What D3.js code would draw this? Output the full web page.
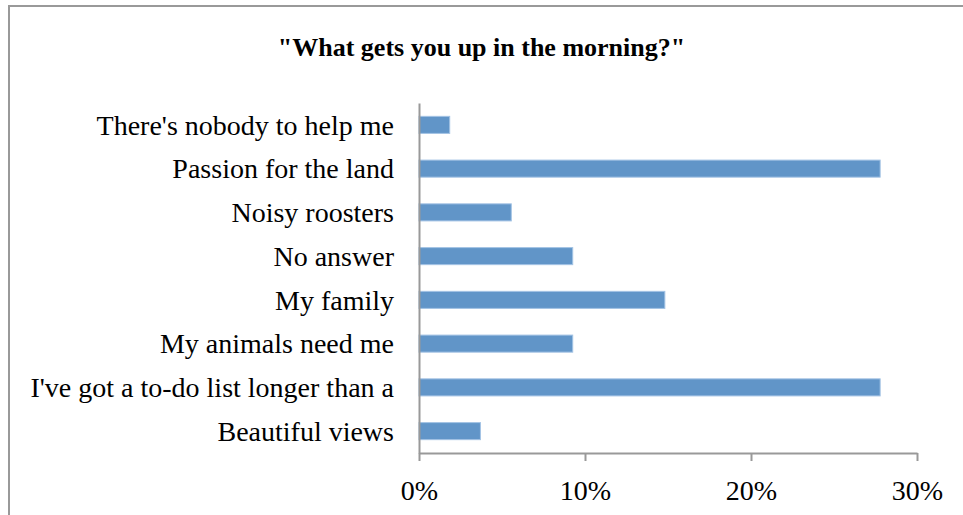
<!DOCTYPE html>
<html>
<head>
<meta charset="utf-8">
<script src="https://cdn.jsdelivr.net/npm/d3@7"></script>
<style>
  body { margin: 0; background: #fff; }
  .chart text { font-family: "Liberation Serif", "Times New Roman", serif; fill: #000; }
  .axis path, .axis line { stroke: #999; stroke-width: 2; }
</style>
</head>
<body>
<div class="chart"></div>
<script>
// answers, top to bottom as they appear in the chart
const categories = [
  "There's nobody to help me",
  "Passion for the land",
  "Noisy roosters",
  "No answer",
  "My family",
  "My animals need me",
  "I've got a to-do list longer than a",
  "Beautiful views"
];

// share of answers (in %)
const shares = [1.85, 27.78, 5.56, 9.26, 14.81, 9.26, 27.78, 3.70];

const tickValues = [0, 10, 20, 30];

const title = '"What gets you up in the morning?"';

const W = 963, H = 515;

//plot area
const margin = { top: 103, right: 46, bottom: 62, left: 419 };
const width = W - margin.left - margin.right;
const height = H - margin.top - margin.bottom;

const svg = d3.select('.chart')
  .append('svg')
  .attr('width', W)
  .attr('height', H);

//outer frame, runs off the right and bottom edges like in the screenshot
svg.append('rect')
  .attr('x', 9)
  .attr('y', 6)
  .attr('width', 1000)
  .attr('height', 600)
  .attr('fill', 'none')
  .attr('stroke', '#999')
  .attr('stroke-width', 2);

svg.append('text')
  .attr('x', W / 2)
  .attr('y', 56)
  .attr('text-anchor', 'middle')
  .style('font-size', '26px')
  .style('font-weight', 'bold')
  .text(title);

const g = svg.append('g')
  .attr('transform', `translate(${margin.left},${margin.top})`);

const x = d3.scaleLinear()
  .domain([0, 30])
  .range([0, width]);

const y = d3.scaleBand()
  .domain(categories)
  .range([0, height])
  .paddingInner(0.61)
  .paddingOuter(0.305);

const data = categories.map((c, i) => ({ name: c, value: shares[i] }));

g.selectAll('rect.bar')
  .data(data)
  .enter()
  .append('rect')
  .attr('class', 'bar')
  .attr('x', 0)
  .attr('y', d => y(d.name))
  .attr('width', d => x(d.value))
  .attr('height', y.bandwidth())
  .attr('fill', '#6195c8')
  .attr('stroke', '#a3c3e4')
  .attr('stroke-width', 1);

//x axis
const xAxis = d3.axisBottom(x)
  .tickValues(tickValues)
  .tickSize(8)
  .tickSizeOuter(0)
  .tickFormat(d => d + '%');

g.append('g')
  .attr('class', 'axis')
  .attr('transform', `translate(0,${height})`)
  .call(xAxis)
  .call(a => a.selectAll('text')
    .attr('y', 47)
    .attr('dy', 0)
    .style('font-size', '28px'));

//y axis, just the line and the labels
const yAxis = d3.axisLeft(y)
  .tickSize(0)
  .tickSizeOuter(0)
  .tickPadding(25);

g.append('g')
  .attr('class', 'axis')
  .call(yAxis)
  .call(a => a.selectAll('text')
    .attr('dy', '0.35em')
    .style('font-size', '28px'));

g.selectAll('.axis .domain').attr('stroke', '#999');
</script>
</body>
</html>
